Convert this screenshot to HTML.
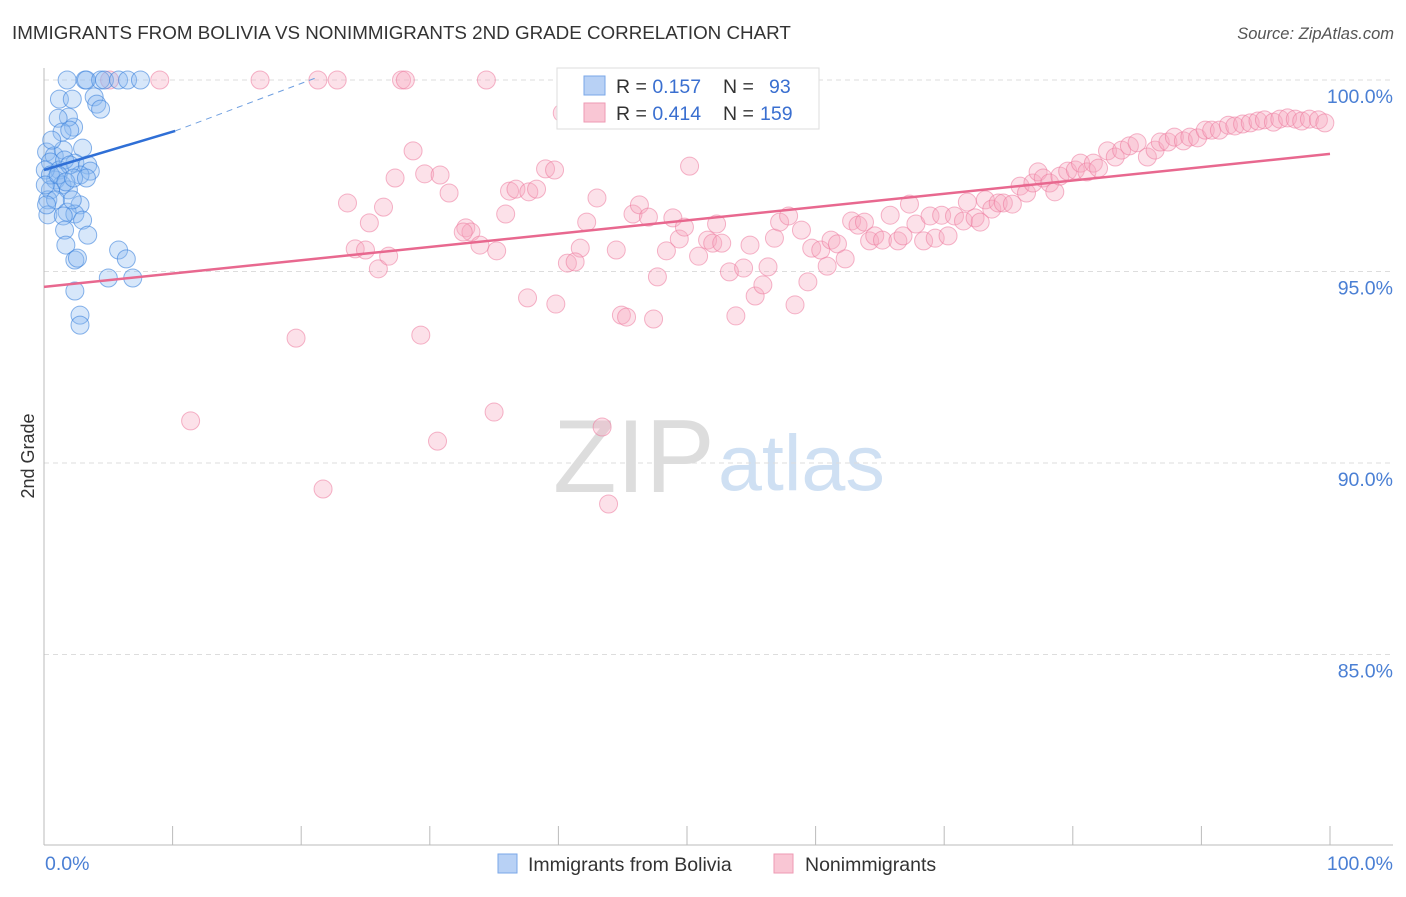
<!DOCTYPE html>
<html><head><meta charset="utf-8"><style>
body{margin:0;background:#fff;font-family:"Liberation Sans",sans-serif;}
svg text{font-family:"Liberation Sans",sans-serif;}
</style></head><body>
<svg id="chart" width="1406" height="892" xmlns="http://www.w3.org/2000/svg">
<text x="12" y="39" font-size="18.8" fill="#333">IMMIGRANTS FROM BOLIVIA VS NONIMMIGRANTS 2ND GRADE CORRELATION CHART</text>
<text x="1394" y="39" font-size="16.5" fill="#555" text-anchor="end" font-style="italic">Source: ZipAtlas.com</text>
<text x="553" y="492" font-size="104" fill="#ddd" font-family="Liberation Serif, serif">ZIP</text>
<text x="718" y="490" font-size="79" fill="#cfe0f3">atlas</text>
<g id="grid"></g>
<line x1="44" y1="68" x2="44" y2="845" stroke="#bbb"/>
<line x1="44" y1="845" x2="1393" y2="845" stroke="#bbb"/>
<g id="ticks"></g>
<text transform="translate(34,456) rotate(-90)" font-size="18" fill="#333" text-anchor="middle">2nd Grade</text>
<text x="45" y="870" font-size="19.5" fill="#4a7fd4">0.0%</text>
<text x="1393" y="870" font-size="19.5" fill="#4a7fd4" text-anchor="end">100.0%</text>
<g id="pink"></g><g id="blue"></g><g id="lines"></g>
<g>
<rect x="557" y="68" width="262" height="61" fill="#fff" stroke="#ddd"/>
<rect x="584" y="76" width="21" height="19" fill="#b8d1f5" stroke="#7aa7e8"/>
<rect x="584" y="103" width="21" height="19" fill="#f9c6d4" stroke="#ee9ab3"/>
<text x="616" y="93" font-size="19.5" fill="#333">R = <tspan fill="#3a6fd0">0.157</tspan><tspan x="723">N = </tspan><tspan x="769" fill="#3a6fd0">93</tspan></text>
<text x="616" y="120" font-size="19.5" fill="#333">R = <tspan fill="#3a6fd0">0.414</tspan><tspan x="723">N = </tspan><tspan x="760" fill="#3a6fd0">159</tspan></text>
</g>
<g>
<rect x="498" y="854" width="19" height="19" fill="#b8d1f5" stroke="#7aa7e8"/>
<text x="528" y="871" font-size="19.5" fill="#333">Immigrants from Bolivia</text></g>
<g>
<rect x="774" y="854" width="19" height="19" fill="#f9c6d4" stroke="#ee9ab3"/>
<text x="805" y="871" font-size="19.5" fill="#333">Nonimmigrants</text></g>
</svg>
<script>
const yTicks=[100,95,90,85];
const yTickLabels=["100.0%","95.0%","90.0%","85.0%"];
const xTicks=[0,10,20,30,40,50,60,70,80,90,100];
const blueX=[1.8,3.2,3.3,4.4,4.7,5.8,6.5,7.5,1.2,2.2,3.9,4.1,4.4,2.3,1.9,1.1,1.4,2.0,3.0,0.2,0.8,1.5,0.5,1.2,2.4,3.4,3.6,2.8,0.9,1.4,0.5,1.9,0.3,0.9,2.8,1.8,2.4,0.3,1.5,3.0,1.6,3.4,1.7,2.4,2.6,5.8,6.4,5.0,6.9,2.4,2.8,2.8,0.1,0.5,0.1,0.6,1.6,2.0,1.1,1.7,2.3,3.3,0.2,2.2];
const blueY=[100,100,100,100,100,100,100,100,99.5,99.5,99.56,99.37,99.24,98.77,99.03,99.0,98.64,98.69,98.22,98.12,98.02,98.17,97.86,97.65,97.83,97.78,97.62,97.52,97.39,97.26,97.13,97.13,96.87,96.87,96.74,96.55,96.5,96.48,96.45,96.34,96.08,95.95,95.69,95.3,95.35,95.56,95.33,94.83,94.83,94.49,93.86,93.6,97.65,97.52,97.26,98.43,97.91,97.78,97.52,97.34,97.44,97.44,96.74,96.87];
const pinkX=[9.0,5.1,16.8,21.3,22.8,27.8,28.1,34.4,40.3,50.2,28.7,23.6,26.4,25.3,27.3,29.6,30.8,31.5,32.8,33.2,33.9,35.2,35.9,36.2,36.7,37.7,38.3,39.0,39.7,43.0,42.2,41.7,40.7,41.3,44.5,45.8,46.3,47.0,47.7,48.4,48.9,49.4,49.8,50.9,51.6,52.0,52.3,52.7,53.3,54.4,54.9,55.3,55.9,56.3,56.8,57.2,57.9,58.4,58.9,59.4,59.7,60.4,60.9,61.2,61.7,62.3,62.8,63.3,63.8,64.2,64.6,65.2,65.8,66.4,66.8,67.3,67.8,68.4,68.9,69.3,69.8,70.3,70.8,71.5,71.8,72.4,72.8,73.2,73.7,74.2,74.6,75.3,75.9,76.4,76.9,77.3,77.7,78.2,78.6,79.0,79.6,80.2,80.6,81.1,81.6,82.0,82.7,83.3,83.8,84.4,85.0,85.8,86.4,86.8,87.4,87.9,88.6,89.1,89.7,90.3,90.8,91.4,92.1,92.6,93.2,93.8,94.4,94.9,95.6,96.1,96.7,97.3,97.8,98.4,99.1,99.6,19.6,11.4,21.7,29.3,30.6,35.0,43.4,43.9,37.6,39.8,44.9,45.3,47.4,53.8,26.0,24.2,25.0,26.8,32.6];
const pinkY=[100,100,100,100,100,100,100,100,99.14,97.75,98.15,96.79,96.68,96.27,97.44,97.55,97.52,97.05,96.14,96.03,95.69,95.54,96.5,97.1,97.15,97.08,97.15,97.68,97.65,96.92,96.29,95.61,95.22,95.25,95.56,96.5,96.74,96.42,94.86,95.54,96.4,95.85,96.16,95.4,95.82,95.74,96.24,95.74,94.99,95.09,95.69,94.36,94.65,95.12,95.87,96.29,96.45,94.13,96.08,94.73,95.61,95.56,95.14,95.82,95.72,95.33,96.32,96.21,96.29,95.8,95.93,95.82,96.47,95.8,95.93,96.76,96.24,95.8,96.45,95.87,96.47,95.93,96.45,96.32,96.81,96.4,96.29,96.87,96.63,96.79,96.79,96.76,97.23,97.05,97.31,97.6,97.44,97.31,97.08,97.49,97.62,97.65,97.83,97.6,97.83,97.7,98.15,97.99,98.17,98.28,98.36,97.99,98.17,98.38,98.38,98.51,98.41,98.51,98.49,98.69,98.69,98.69,98.82,98.8,98.85,98.88,98.93,98.96,98.9,98.98,99.01,98.98,98.93,98.98,98.96,98.88,93.26,91.1,89.32,93.34,90.57,91.33,90.94,88.93,94.31,94.15,93.86,93.81,93.76,93.84,95.07,95.59,95.56,95.4,96.03];
const pinkTrend=[94.6,98.07];
const blueTrend=[97.65,98.67,100.05];
const blueTrendX=[0,10.2,21.1];
const NS="http://www.w3.org/2000/svg";
const sx=v=>44+v*12.86;
const sy=v=>80+(100-v)*38.3;
function mk(t,p,a){const e=document.createElementNS(NS,t);for(const k in a)e.setAttribute(k,a[k]);p.appendChild(e);return e;}
const grid=document.getElementById('grid');
yTicks.forEach((v,i)=>{
 const l=mk('line',grid,{x1:44,x2:1393,y1:sy(v),y2:sy(v),stroke:'#ddd','stroke-dasharray':'5,4'});
 
 
 const t=mk('text',grid,{x:1393,y:sy(v)+23,'font-size':19.5,fill:'#4a7fd4','text-anchor':'end'});
 t.textContent=yTickLabels[i];
 
 
});
const tk=document.getElementById('ticks');
xTicks.forEach(v=>{
 const l=mk('line',tk,{x1:sx(v),x2:sx(v),y1:826,y2:845,stroke:'#bbb'});
 
 
});
const pg=document.getElementById('pink');
pinkX.forEach((x,i)=>{
 const c=mk('circle',pg,{cx:sx(x),cy:sy(pinkY[i]),r:9,fill:'rgba(246,168,192,0.35)',stroke:'rgba(236,120,156,0.55)','stroke-width':1});
 
 
});
const bg=document.getElementById('blue');
blueX.forEach((x,i)=>{
 const c=mk('circle',bg,{cx:sx(x),cy:sy(blueY[i]),r:9,fill:'rgba(140,185,240,0.35)',stroke:'rgba(60,130,220,0.6)','stroke-width':1});
 
 
});
const lg=document.getElementById('lines');
const pl=mk('line',lg,{x1:sx(0),y1:sy(pinkTrend[0]),x2:sx(100),y2:sy(pinkTrend[1]),stroke:'#e8688f','stroke-width':2.5});


const bl=mk('line',lg,{x1:sx(blueTrendX[0]),y1:sy(blueTrend[0]),x2:sx(blueTrendX[1]),y2:sy(blueTrend[1]),stroke:'#2f6fd6','stroke-width':2.5});


const bd=mk('line',lg,{x1:sx(blueTrendX[1]),y1:sy(blueTrend[1]),x2:sx(blueTrendX[2]),y2:sy(blueTrend[2]),stroke:'#6f9fe0','stroke-width':1,'stroke-dasharray':'6,5'});


</script>
</body></html>
